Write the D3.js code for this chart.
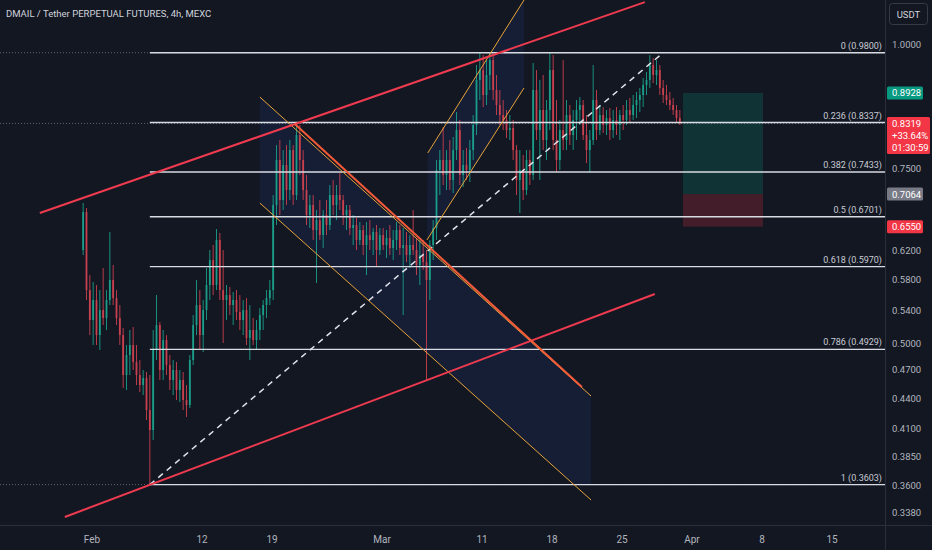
<!DOCTYPE html>
<html>
<head>
<meta charset="utf-8">
<script src="https://cdn.jsdelivr.net/npm/d3@7"></script>
<style>
  html, body { margin: 0; padding: 0; background: #131722; }
  svg { display: block; }
</style>
</head>
<body>
<svg id="chart" width="932" height="550"></svg>
<script>
const title = 'DMAIL / Tether PERPETUAL FUTURES, 4h, MEXC';

// candles, 8h each, starting at this time
const firstCandle = '2024-01-31T00:00Z';
const candleHours = 8;

const opens = [
  .6205,.6776,.5655,.5276,.5526,.5095,.5399,.5300,.5526,.5788,
  .5551,.5300,.5095,.4645,.4865,.4979,.4787,.4645,.4538,.4613,
  .4283,.4089,.4922,.5215,.4699,.5037,.4753,.4591,.4699,.4486,
  .4591,.4383,.4333,.4809,.5215,.5462,.5095,.5399,.5721,.6062,
  .5721,.6350,.5655,.5526,.5590,.5462,.5526,.5374,.5276,.5399,
  .5060,.5155,.5037,.5155,.5337,.5462,.5551,.5655,.6887,.7643,
  .6966,.7555,.7130,.7822,.7048,.8099,.7643,.7130,.6729,.6887,
  .6499,.6651,.6424,.6729,.6575,.7048,.6887,.7048,.6966,.6729,
  .6807,.6529,.6575,.6350,.6499,.6277,.6424,.6350,.6469,.6205,
  .6424,.6277,.6380,.6234,.6350,.6499,.6234,.6277,.6133,.6277,
  .6205,.5992,.6133,.6034,.5788,.6277,.6529,.7468,.7643,.7382,
  .7643,.7297,.7822,.8193,.7382,.7555,.7468,.7822,.8289,.9200,
  .9415,.8885,.9307,.9636,.8989,.8682,.8483,.8385,.8193,.8231,
  .7822,.7297,.7468,.7130,.7643,.7382,.8989,.8193,.8582,.8006,
  .8582,.9415,.8006,.7643,.8193,.8006,.8483,.8099,.8385,.8582,
  .8682,.8099,.7822,.8006,.8783,.8193,.8483,.8289,.8424,.8193,
  .8385,.8289,.8483,.8385,.8582,.8483,.8682,.8783,.8885,.9094,
  .9200,.9525,.9307,.9415,.9031,.8885,.8783,.8682,.8582,.8424
];
const highs = [
  .6918,.6839,.5855,.5761,.5721,.5655,.5951,.5655,.6469,.5992,
  .5655,.5462,.5179,.4979,.5155,.5191,.4979,.4809,.4699,.4677,
  .4645,.5155,.5590,.5251,.5155,.5095,.4865,.4809,.4787,.4699,
  .4677,.4538,.4865,.5337,.5788,.5655,.5526,.5951,.6205,.6277,
  .6514,.6454,.6205,.5721,.5695,.5629,.5655,.5590,.5526,.5551,
  .5462,.5300,.5276,.5424,.5526,.5655,.5788,.7048,.7913,.8006,
  .7822,.7913,.8006,.7913,.8308,.8289,.7822,.7382,.7048,.7048,
  .6807,.6966,.6807,.6966,.7213,.7297,.7213,.7416,.7048,.6887,
  .6887,.6729,.6682,.6621,.6575,.6621,.6651,.6529,.6575,.6529,
  .6529,.6499,.6575,.6499,.6621,.6575,.6529,.6469,.6424,.6807,
  .6380,.6350,.6350,.6205,.6350,.6651,.7643,.7822,.8250,.7822,
  .8006,.8061,.8542,.8385,.7822,.7858,.8006,.8483,.9525,.9794,
  .9748,.9636,.9816,.9748,.9307,.8989,.8783,.8582,.8483,.8385,
  .7913,.7822,.7732,.7822,.7822,.9569,.9415,.9200,.9307,.8783,
  .9794,.9748,.8783,.8385,.9636,.8783,.8682,.8582,.8783,.8844,
  .8783,.8483,.8193,.9525,.8989,.8682,.8642,.8582,.8622,.8582,
  .8642,.8582,.8682,.8783,.8824,.8885,.8948,.9031,.9242,.9372,
  .9748,.9681,.9636,.9525,.9200,.9094,.8948,.8824,.8682,.8582
];
const lows = [
  .6133,.5526,.5095,.4979,.4979,.4922,.5215,.5155,.5462,.5462,
  .5215,.4979,.4507,.4486,.4645,.4699,.4538,.4465,.4434,.4185,
  .3603,.3995,.4809,.4591,.4591,.4645,.4486,.4434,.4383,.4363,
  .4283,.4214,.4303,.4753,.5095,.4922,.4899,.5276,.5526,.5590,
  .5655,.5526,.5002,.5276,.5337,.5215,.5276,.5155,.5095,.4979,
  .4809,.4979,.4922,.5037,.5155,.5300,.5462,.5526,.6575,.6729,
  .6807,.6887,.6966,.6887,.6966,.7382,.6966,.6575,.6529,.6350,
  .5748,.6350,.6234,.6424,.6499,.6729,.6651,.6807,.6575,.6499,
  .6424,.6277,.6205,.6277,.6133,.5855,.6205,.6133,.5965,.6133,
  .6205,.6091,.6133,.6062,.6205,.6133,.5337,.6034,.5951,.6133,
  .5855,.5721,.5924,.4591,.5526,.6062,.6350,.7048,.7213,.7130,
  .7130,.7080,.7643,.7213,.7180,.7297,.7264,.7643,.8099,.8783,
  .8642,.8682,.8989,.8783,.8483,.8289,.8193,.8043,.8006,.7643,
  .7048,.6760,.6966,.7048,.7213,.7297,.8006,.7297,.7822,.7643,
  .8193,.7822,.7433,.7468,.7822,.7822,.7913,.7822,.8006,.8289,
  .8006,.7590,.7433,.7913,.8006,.8099,.8136,.8099,.8006,.8043,
  .8099,.8006,.8193,.8289,.8327,.8385,.8424,.8542,.8642,.8885,
  .9031,.9136,.9094,.8885,.8722,.8682,.8582,.8483,.8327,.8289
];
const closes = [
  .6776,.5655,.5276,.5526,.5095,.5399,.5300,.5526,.5788,.5551,
  .5300,.5095,.4645,.4865,.4979,.4787,.4645,.4538,.4613,.4283,
  .4089,.4922,.5215,.4699,.5037,.4753,.4591,.4699,.4486,.4591,
  .4383,.4333,.4809,.5215,.5462,.5095,.5399,.5721,.6062,.5721,
  .6350,.5655,.5526,.5590,.5462,.5526,.5374,.5276,.5399,.5060,
  .5155,.5037,.5155,.5337,.5462,.5551,.5655,.6887,.7643,.6966,
  .7555,.7130,.7822,.7048,.8099,.7643,.7130,.6729,.6887,.6499,
  .6651,.6424,.6729,.6575,.7048,.6887,.7048,.6966,.6729,.6807,
  .6529,.6575,.6350,.6499,.6277,.6424,.6350,.6469,.6205,.6424,
  .6277,.6380,.6234,.6350,.6499,.6234,.6277,.6133,.6277,.6205,
  .5992,.6133,.6034,.5788,.6277,.6529,.7468,.7643,.7382,.7643,
  .7297,.7822,.8193,.7382,.7555,.7468,.7822,.8289,.9200,.9415,
  .8885,.9307,.9636,.8989,.8682,.8483,.8385,.8193,.8231,.7822,
  .7297,.7468,.7130,.7643,.7382,.8989,.8193,.8582,.8006,.8582,
  .9415,.8006,.7643,.8193,.8006,.8483,.8099,.8385,.8582,.8682,
  .8099,.7822,.8006,.8783,.8193,.8483,.8289,.8424,.8193,.8385,
  .8289,.8483,.8385,.8582,.8483,.8682,.8783,.8885,.9094,.9200,
  .9525,.9307,.9415,.9031,.8885,.8783,.8682,.8582,.8424,.8319
];

// fibonacci retracement
const fibRatios = ['0', '0.236', '0.382', '0.5', '0.618', '0.786', '1'];
const fibPrices = [0.98, 0.8337, 0.7433, 0.6701, 0.597, 0.4929, 0.3603];
const fibStart = '2024-02-06T20:00Z';
const fibTrend = [['2024-02-06T20:00Z', 0.3603], ['2024-03-29T04:00Z', 0.98]];

// drawn lines [time, price]
const redUpper = [['2024-01-26T20:00Z', 0.676], ['2024-03-27T08:00Z', 1.102]];
const redLower = [['2024-01-29T08:00Z', 0.3343], ['2024-03-28T08:00Z', 0.5603]];
const redDown = [['2024-02-21T08:00Z', 0.8308], ['2024-03-21T01:00Z', 0.4517]];
const descUpper = [['2024-02-17T20:00Z', 0.8844], ['2024-03-21T23:00Z', 0.4424]];
const descLower = [['2024-02-17T20:00Z', 0.6918], ['2024-03-21T23:00Z', 0.3477]];
const ascUpper = [['2024-03-05T15:00Z', 0.7768], ['2024-03-15T06:00Z', 1.1073]];
const ascLower = [['2024-03-05T13:00Z', 0.6350], ['2024-03-15T06:00Z', 0.9031]];

// long position tool
const posStart = '2024-03-31T03:30Z';
const posEnd = '2024-04-08T03:30Z';
const posEntry = 0.7064, posTarget = 0.8928, posStop = 0.655;

// price scale
const lastPrice = 0.8319;
const lastChange = '+33.64%';
const countdown = '01:30:59';
const yTicks = [1.0, 0.75, 0.62, 0.58, 0.54, 0.5, 0.47, 0.44, 0.41, 0.385, 0.36, 0.338];
const xTicks = ['2024-02-01', '2024-02-12', '2024-02-19', '2024-03-01', '2024-03-11', '2024-03-18', '2024-03-25', '2024-04-01', '2024-04-08', '2024-04-15'];
const xTickLabels = ['Feb', '12', '19', 'Mar', '11', '18', '25', 'Apr', '8', '15'];

const W = 932, H = 550, plotRight = 885, plotBottom = 525;
const font = 'Roboto, "Liberation Sans", sans-serif';

const x = d3.scaleUtc()
  .domain([new Date('2024-02-01T00:00Z'), new Date('2024-04-15T00:00Z')])
  .range([91.5, 831.5]);
const y = d3.scaleLog().domain([1, 0.36]).range([44, 485]);

const svg = d3.select('#chart').style('font-family', font);
svg.append('rect').attr('width', W).attr('height', H).attr('fill', '#131722');

const defs = svg.append('defs');
defs.append('clipPath').attr('id', 'plot')
  .append('rect').attr('width', plotRight).attr('height', plotBottom);
defs.append('clipPath').attr('id', 'fibclip')
  .append('rect').attr('width', plotRight).attr('height', y(fibPrices[6]));

const pt = (d) => [x(new Date(d[0])), y(d[1])];
const plot = svg.append('g').attr('clip-path', 'url(#plot)');

// channel fills
plot.append('g').attr('clip-path', 'url(#fibclip)')
  .append('polygon')
  .attr('points', [descUpper[0], descUpper[1], descLower[1], descLower[0]].map(pt).join(' '))
  .attr('fill', 'rgba(41,82,200,0.12)');
plot.append('polygon')
  .attr('points', [ascUpper[0], ascUpper[1], ascLower[1], ascLower[0]].map(pt).join(' '))
  .attr('fill', 'rgba(41,82,200,0.12)');

// position box
const px0 = x(new Date(posStart)), px1 = x(new Date(posEnd));
plot.append('rect')
  .attr('x', px0).attr('width', px1 - px0)
  .attr('y', y(posTarget)).attr('height', y(posEntry) - y(posTarget))
  .attr('fill', 'rgba(8,153,129,0.22)');
plot.append('rect')
  .attr('x', px0).attr('width', px1 - px0)
  .attr('y', y(posEntry)).attr('height', y(posStop) - y(posEntry))
  .attr('fill', 'rgba(242,54,69,0.22)');

// dotted price lines
[fibPrices[0], lastPrice, fibPrices[6]].forEach((p) => {
  plot.append('line')
    .attr('x1', 0).attr('x2', plotRight)
    .attr('y1', y(p)).attr('y2', y(p))
    .attr('stroke', '#9598a1').attr('stroke-width', 1)
    .attr('stroke-dasharray', '1,2').attr('opacity', 0.6);
});

// candles
const t0 = new Date(firstCandle).getTime();
const candles = closes.map((c, i) => ({
  t: new Date(t0 + (i + 0.5) * candleHours * 3600e3),
  o: opens[i], h: highs[i], l: lows[i], c: c,
}));
const up = '#1a9e8a', down = '#c9404e';
const cg = plot.append('g').selectAll('g').data(candles).join('g');
cg.append('line')
  .attr('x1', (d) => x(d.t)).attr('x2', (d) => x(d.t))
  .attr('y1', (d) => y(d.h)).attr('y2', (d) => y(d.l))
  .attr('stroke', (d) => (d.c >= d.o ? up : down))
  .attr('stroke-width', 0.9);
cg.append('rect')
  .attr('x', (d) => x(d.t) - 0.9)
  .attr('width', 1.8)
  .attr('y', (d) => y(Math.max(d.o, d.c)))
  .attr('height', (d) => Math.max(1, Math.abs(y(d.o) - y(d.c))))
  .attr('fill', (d) => (d.c >= d.o ? up : down));

// fib levels
const fx = x(new Date(fibStart));
const fib = plot.append('g').selectAll('g').data(fibPrices).join('g');
fib.append('line')
  .attr('x1', fx).attr('x2', plotRight)
  .attr('y1', (d) => y(d)).attr('y2', (d) => y(d))
  .attr('stroke', '#d8dbe2').attr('stroke-width', 1.4);
fib.append('text')
  .attr('x', plotRight - 3).attr('y', (d) => y(d) - 4)
  .attr('text-anchor', 'end')
  .attr('fill', '#c8cbd3').style('font-size', '9px')
  .text((d, i) => `${fibRatios[i]} (${d.toFixed(4)})`);

// fib trend line
plot.append('line')
  .attr('x1', pt(fibTrend[0])[0]).attr('y1', pt(fibTrend[0])[1])
  .attr('x2', pt(fibTrend[1])[0]).attr('y2', pt(fibTrend[1])[1])
  .attr('stroke', '#e0e3eb').attr('stroke-width', 1.5)
  .attr('stroke-dasharray', '6,5');

// channels and trend lines
const seg = (d, color, w) =>
  plot.append('line')
    .attr('x1', pt(d[0])[0]).attr('y1', pt(d[0])[1])
    .attr('x2', pt(d[1])[0]).attr('y2', pt(d[1])[1])
    .attr('stroke', color).attr('stroke-width', w);
seg(descUpper, '#e8a33a', 1);
seg(descLower, '#e8a33a', 1);
seg(ascUpper, '#e8a33a', 1);
seg(ascLower, '#e8a33a', 1);
seg(redUpper, '#ef3a4f', 2);
seg(redLower, '#ef3a4f', 2);
seg(redDown, '#f45a3a', 2);

// panel borders
svg.append('line').attr('x1', plotRight + 0.5).attr('x2', plotRight + 0.5)
  .attr('y1', 0).attr('y2', H).attr('stroke', '#2a2e39');
svg.append('line').attr('x1', 0).attr('x2', W)
  .attr('y1', plotBottom + 0.5).attr('y2', plotBottom + 0.5).attr('stroke', '#2a2e39');

// price axis
const yAxis = svg.append('g')
  .attr('transform', `translate(${plotRight},0)`)
  .call(d3.axisRight(y).tickValues(yTicks).tickFormat(d3.format('.4f')).tickSize(0).tickPadding(7));
yAxis.select('.domain').remove();
yAxis.attr('font-family', font).attr('font-size', 9.5);
yAxis.selectAll('text').attr('fill', '#b2b5be');

// time axis
const xAxis = svg.append('g')
  .attr('transform', `translate(0,${plotBottom})`)
  .call(d3.axisBottom(x)
    .tickValues(xTicks.map((d) => new Date(d + 'T00:00Z')))
    .tickFormat((d, i) => xTickLabels[i])
    .tickSize(0).tickPadding(11));
xAxis.select('.domain').remove();
xAxis.attr('font-family', font).attr('font-size', 10);
xAxis.selectAll('text').attr('fill', '#b2b5be');

// price badges on the axis
const badges = [
  { p: posTarget, lines: [posTarget.toFixed(4)], color: '#089981' },
  { p: lastPrice, lines: [lastPrice.toFixed(4), lastChange, countdown], color: '#f23645' },
  { p: posEntry, lines: [posEntry.toFixed(4)], color: '#787b86' },
  { p: posStop, lines: [posStop.toFixed(4)], color: '#f23645' },
];
badges.forEach((b) => {
  const by = y(b.p);
  const g = svg.append('g');
  g.append('rect')
    .attr('x', plotRight + 2).attr('y', by - 6.5)
    .attr('width', b.lines.length > 1 ? 43 : 36)
    .attr('height', 13 + (b.lines.length - 1) * 12)
    .attr('rx', 1.5)
    .attr('fill', b.color);
  b.lines.forEach((t, i) => {
    g.append('text')
      .attr('x', plotRight + 7).attr('y', by + 3.5 + i * 12)
      .attr('fill', '#ffffff').style('font-size', '9.5px')
      .text(t);
  });
});

// currency button
svg.append('rect')
  .attr('x', 889.5).attr('y', 3.5).attr('width', 38).attr('height', 21).attr('rx', 3)
  .attr('fill', 'none').attr('stroke', '#363a45');
svg.append('text')
  .attr('x', 908.5).attr('y', 17.5).attr('text-anchor', 'middle')
  .attr('fill', '#d1d4dc').style('font-size', '9.5px')
  .text('USDT');

// title
svg.append('text')
  .attr('x', 6).attr('y', 17)
  .attr('fill', '#d1d4dc').style('font-size', '9.5px')
  .text(title);
</script>
</body>
</html>
